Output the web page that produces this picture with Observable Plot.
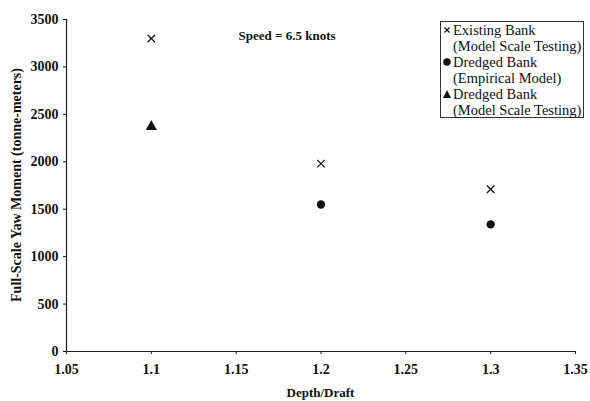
<!DOCTYPE html>
<html><head><meta charset="utf-8">
<script src="https://cdn.jsdelivr.net/npm/d3@7"></script>
<script src="https://cdn.jsdelivr.net/npm/@observablehq/plot@0.6"></script>
<style>
body{margin:0;background:#fff;}
#wrap{position:relative;width:590px;height:401px;font-family:"Liberation Serif","Times New Roman",serif;}
#legend{position:absolute;left:440px;top:21px;width:144px;border:1px solid #333;background:#fff;font-size:14.5px;line-height:16px;padding:0 0 0 2px;box-sizing:border-box;height:97px;color:#111;white-space:nowrap;}
#legend .row{display:flex;align-items:flex-start;}
#legend svg{flex:none;margin-top:3px;margin-right:2px;}
</style></head>
<body><div id="wrap"></div>
<script>
const depthDraft = [1.1, 1.2, 1.3];
const existingModel = [3300, 1980, 1710];
const dredgedEmpiricalX = [1.2, 1.3];
const dredgedEmpirical = [1550, 1340];
const dredgedModelX = [1.1];
const dredgedModel = [2370];
const xTicks = [1.05, 1.1, 1.15, 1.2, 1.25, 1.3, 1.35];
const yTicks = [0, 500, 1000, 1500, 2000, 2500, 3000, 3500];
const seriesNames = [["Existing Bank","(Model Scale Testing)"],["Dredged Bank","(Empirical Model)"],["Dredged Bank","(Model Scale Testing)"]];
const annotation = [{x: 1.18, y: 3330, text: "Speed = 6.5 knots"}];

const existing = depthDraft.map((x,i)=>({x, y: existingModel[i]}));
const empirical = dredgedEmpiricalX.map((x,i)=>({x, y: dredgedEmpirical[i]}));
const model = dredgedModelX.map((x,i)=>({x, y: dredgedModel[i]}));

const chart = Plot.plot({
  width: 590, height: 401,
  marginLeft: 66, marginRight: 15, marginTop: 19, marginBottom: 50,
  style: {fontFamily: '"Liberation Serif","Times New Roman",serif', fontSize: "14px", color: "#111", background: "#fff"},
  x: {domain: [1.05, 1.35], ticks: xTicks, tickFormat: d => String(+d.toFixed(2)), label: null, tickSize: 3, tickPadding: 10},
  y: {domain: [0, 3500], ticks: yTicks, tickFormat: d => String(d), label: null, tickSize: 3, tickPadding: 5},
  marks: [
    Plot.ruleX([1.05], {stroke: "#222", strokeWidth: 1.2}),
    Plot.ruleY([0], {stroke: "#222", strokeWidth: 1.2}),
    Plot.dot(existing, {x: "x", y: "y", symbol: "times", r: 3.5, stroke: "#111", strokeWidth: 1.2}),
    Plot.dot(empirical, {x: "x", y: "y", symbol: "circle", r: 4.2, fill: "#111", stroke: "none"}),
    Plot.dot(model, {x: "x", y: "y", symbol: "triangle", r: 4.2, fill: "#111", stroke: "none"}),
    Plot.text(annotation, {x: "x", y: "y", text: "text", fontSize: 13, fontWeight: "bold", fill: "#111"})
  ]
});
chart.querySelectorAll('[aria-label$="tick label"]').forEach(g=>{g.style.fontWeight="bold"; g.setAttribute("font-size","14");
  g.querySelectorAll("text").forEach(t=>t.setAttribute("font-size","14"));});
// axis titles
const ns = "http://www.w3.org/2000/svg";
const xl = document.createElementNS(ns, "text");
xl.setAttribute("x", (66 + 575) / 2); xl.setAttribute("y", 397);
xl.setAttribute("text-anchor", "middle");
xl.setAttribute("font-weight", "bold"); xl.setAttribute("font-size", "13");
xl.setAttribute("fill", "#111");
xl.textContent = "Depth/Draft";
chart.appendChild(xl);
const yl = document.createElementNS(ns, "text");
yl.setAttribute("transform", `translate(21,${(19 + 351) / 2}) rotate(-90)`);
yl.setAttribute("text-anchor", "middle");
yl.setAttribute("font-weight", "bold"); yl.setAttribute("font-size", "14");
yl.setAttribute("fill", "#111");
yl.textContent = "Full-Scale Yaw Moment (tonne-meters)";
chart.appendChild(yl);
const wrap = document.getElementById("wrap");
wrap.appendChild(chart);

const symbols = [
  '<svg width="8" height="10"><path d="M1.5,2.5L6.5,7.5M6.5,2.5L1.5,7.5" stroke="#111" stroke-width="1.2"/></svg>',
  '<svg width="8" height="10"><circle cx="4" cy="5" r="3.8" fill="#111"/></svg>',
  '<svg width="8" height="10"><path d="M4,1L8,9L0,9Z" fill="#111"/></svg>'
];
const leg = document.createElement("div");
leg.id = "legend";
leg.innerHTML = seriesNames.map((n,i)=>`<div class="row">${symbols[i]}<div>${n[0]}<br>${n[1]}</div></div>`).join("");
wrap.appendChild(leg);
</script></body></html>
